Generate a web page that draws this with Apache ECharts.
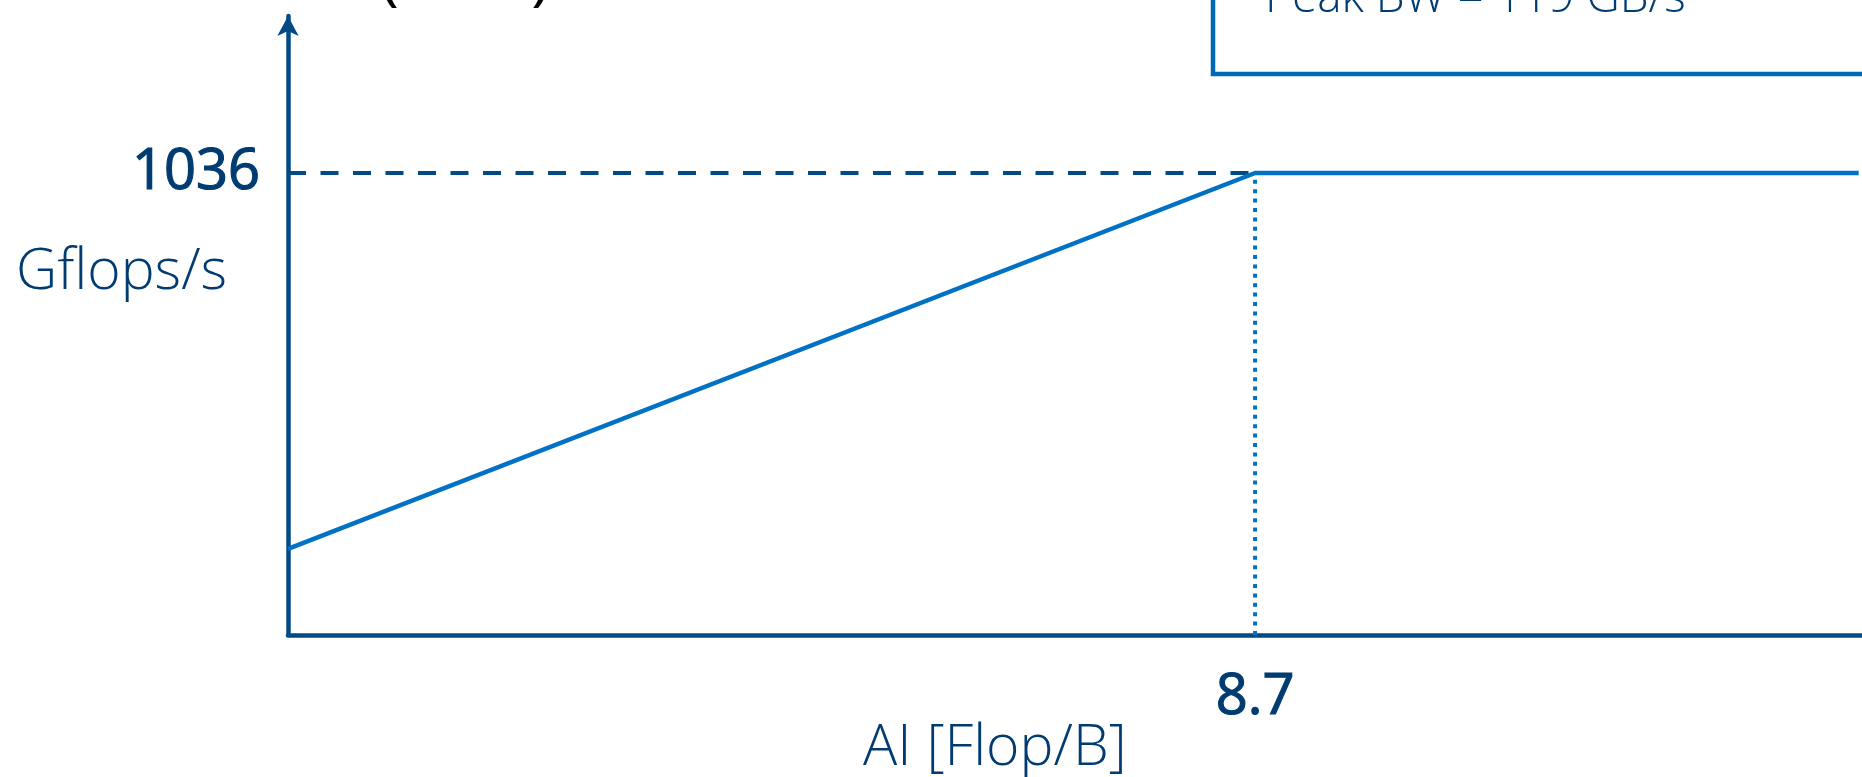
<!DOCTYPE html>
<html><head><meta charset="utf-8">
<script src="https://cdn.jsdelivr.net/npm/echarts@6/dist/echarts.min.js"></script>
<style>html,body{margin:0;padding:0;background:#fff}#c{width:1862px;height:777px}</style>
</head><body><div id="c"></div>
<script>
// ---- data ----
const roofAI = [0, 8.7, 14.13];          // Flop/B
const roofGflops = [193, 1036, 1036];    // Gflops/s
const peakGflops = 1036;
const ridgeAI = 8.7;
const yTickValues = [1036];
const xTickValues = [8.7];
const peakBW = 119;                      // GB/s
const titleText = '(DDR)';
const xName = 'AI [Flop/B]';
const yName = 'Gflops/s';

const AXIS = '#004a86', LINE = '#0071c5', TEXT = '#003c71';
const FONT = '"Open Sans", "Noto Sans", sans-serif';

const chart = echarts.init(document.getElementById('c'), null, {renderer: 'canvas'});
const roofData = roofAI.map((x, i) => [x, roofGflops[i]]);
const numLabel = {color: TEXT, fontFamily: FONT, fontWeight: 400, fontSize: 56,
  textBorderColor: TEXT, textBorderWidth: 1.2, formatter: v => String(v)};
chart.setOption({
  animation: false,
  backgroundColor: '#ffffff',
  grid: {left: 288, right: 0, top: 16, bottom: 142, containLabel: false},
  xAxis: {
    type: 'value', min: 0, max: 14.16,
    axisLine: {onZero: false, lineStyle: {color: AXIS, width: 4.5}},
    axisTick: {show: false},
    splitLine: {show: false},
    axisLabel: Object.assign({customValues: xTickValues, margin: 35}, numLabel)
  },
  yAxis: {
    type: 'value', min: 0, max: 1388,
    axisLine: {lineStyle: {color: AXIS, width: 4.5}, symbol: ['none', 'arrow'], symbolSize: [16, 20]},
    axisTick: {show: false},
    splitLine: {show: false},
    axisLabel: Object.assign({customValues: yTickValues, margin: 28, padding: [0, 0, 10, 0]}, numLabel)
  },
  series: [
    {type: 'line', data: [[0, peakGflops], [ridgeAI, peakGflops]], symbol: 'none', silent: true, z: 1,
      lineStyle: {color: AXIS, width: 4, type: [18, 14.5]}},
    {type: 'line', data: [[ridgeAI, 0], [ridgeAI, peakGflops]], symbol: 'none', silent: true, z: 1,
      lineStyle: {color: LINE, width: 4, type: [4, 5.4]}},
    {type: 'line', data: roofData, symbol: 'none', silent: true, z: 3,
      lineStyle: {color: LINE, width: 4.5}}
  ],
  graphic: [
    {type: 'text', left: 380, top: -52, style: {text: titleText, fontFamily: FONT, fontSize: 64, fill: '#000'}},
    {type: 'rect', shape: {x: 1213, y: -30, width: 700, height: 104}, style: {fill: 'none', stroke: '#0068b5', lineWidth: 4.5}},
    {type: 'text', left: 1265, top: -24, style: {text: 'Peak BW = ' + peakBW + ' GB/s', fontFamily: FONT, fontWeight: 300, fontSize: 46, fill: TEXT}},
    {type: 'text', left: 16, top: 244, style: {text: yName, fontFamily: FONT, fontWeight: 300, fontSize: 57, fill: TEXT}},
    {type: 'text', left: 863, top: 720, style: {text: xName, fontFamily: FONT, fontWeight: 300, fontSize: 57, fill: TEXT}}
  ]
});
</script></body></html>
